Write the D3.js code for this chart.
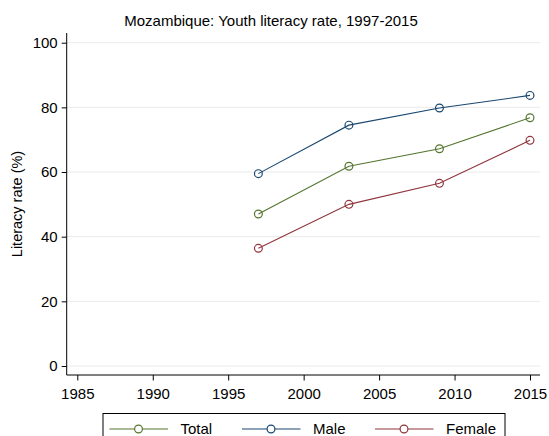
<!DOCTYPE html>
<html>
<head>
<meta charset="utf-8">
<script src="https://cdn.jsdelivr.net/npm/d3@7"></script>
<style>
  html, body { margin: 0; padding: 0; background: #fff; }
  svg { display: block; font-family: "Liberation Sans", Arial, sans-serif; }
</style>
</head>
<body>
<svg id="chart" width="549" height="436"></svg>
<script>
// Youth literacy rate (%) in Mozambique, by sex
const years = [1997, 2003, 2009, 2015];
const totalRate = [47.0, 61.8, 67.2, 76.8];
const maleRate = [59.5, 74.5, 79.8, 83.7];
const femaleRate = [36.4, 50.0, 56.5, 69.8];
const seriesNames = ["Total", "Male", "Female"];
const seriesColors = ["#55752f", "#1a476f", "#90353b"];
const xTicks = [1985, 1990, 1995, 2000, 2005, 2010, 2015];
const yTicks = [0, 20, 40, 60, 80, 100];

const svg = d3.select("#chart");
const FONT = "Liberation Sans, Arial, sans-serif";

// plot frame
const plotLeft = 66.7, plotRight = 540, plotTop = 33, plotBottom = 375;

const x = d3.scaleLinear().domain([1985, 2015]).range([77.3, 530]);
const y = d3.scaleLinear().domain([0, 100]).range([366, 42.7]);

// title
svg.append("text")
  .attr("x", 271).attr("y", 26)
  .attr("text-anchor", "middle")
  .attr("font-size", 15)
  .attr("fill", "#000")
  .text("Mozambique: Youth literacy rate, 1997-2015");

// horizontal grid lines
svg.append("g").selectAll("line").data(yTicks).join("line")
  .attr("x1", plotLeft).attr("x2", plotRight)
  .attr("y1", d => y(d)).attr("y2", d => y(d))
  .attr("stroke", "#eaeaea").attr("stroke-width", 1);

// y axis
const yAxis = svg.append("g")
  .attr("transform", `translate(${plotLeft},0)`)
  .call(d3.axisLeft(y).tickValues(yTicks).tickSize(5).tickPadding(4).tickSizeOuter(0));
yAxis.select(".domain").remove();
yAxis.append("line")
  .attr("x1", 0).attr("x2", 0).attr("y1", plotTop).attr("y2", plotBottom)
  .attr("stroke", "#000");
yAxis.selectAll("text").attr("font-size", 15).attr("fill", "#000").attr("font-family", FONT);
yAxis.selectAll(".tick line").attr("stroke", "#000");

// x axis
const xAxis = svg.append("g")
  .attr("transform", `translate(0,${plotBottom})`)
  .call(d3.axisBottom(x).tickValues(xTicks).tickFormat(d3.format("d")).tickSize(5.5).tickPadding(7.5).tickSizeOuter(0));
xAxis.select(".domain").remove();
xAxis.append("line")
  .attr("x1", plotLeft).attr("x2", plotRight).attr("y1", 0).attr("y2", 0)
  .attr("stroke", "#000");
xAxis.selectAll("text").attr("font-size", 15).attr("fill", "#000").attr("font-family", FONT);
xAxis.selectAll(".tick line").attr("stroke", "#000");

// y axis title
svg.append("text")
  .attr("transform", `translate(22,${(plotTop + plotBottom) / 2}) rotate(-90)`)
  .attr("text-anchor", "middle")
  .attr("font-size", 14.5)
  .attr("fill", "#000")
  .text("Literacy rate (%)");

// series
const series = [totalRate, maleRate, femaleRate].map((vals, i) => ({
  name: seriesNames[i],
  color: seriesColors[i],
  points: years.map((yr, j) => ({ year: yr, value: vals[j] }))
}));

const line = d3.line().x(d => x(d.year)).y(d => y(d.value));

const g = svg.append("g");
series.forEach(s => {
  g.append("path")
    .attr("d", line(s.points))
    .attr("fill", "none")
    .attr("stroke", s.color)
    .attr("stroke-width", 1.1);
  g.selectAll(null).data(s.points).join("circle")
    .attr("cx", d => x(d.year)).attr("cy", d => y(d.value))
    .attr("r", 3.9)
    .attr("fill", "none")
    .attr("stroke", s.color)
    .attr("stroke-width", 1.2);
});

// legend
const legend = svg.append("g");
legend.append("rect")
  .attr("x", 103).attr("y", 413.5)
  .attr("width", 402).attr("height", 30)
  .attr("fill", "#fff").attr("stroke", "#000").attr("stroke-width", 1);
const legendX = [109.5, 242, 375];
const legendY = 429;
series.forEach((s, i) => {
  const lx = legendX[i];
  legend.append("line")
    .attr("x1", lx).attr("x2", lx + 58.5).attr("y1", legendY).attr("y2", legendY)
    .attr("stroke", s.color).attr("stroke-width", 1.1);
  legend.append("circle")
    .attr("cx", lx + 29).attr("cy", legendY).attr("r", 3.9)
    .attr("fill", "#fff").attr("stroke", s.color).attr("stroke-width", 1.2);
  legend.append("text")
    .attr("x", lx + 71).attr("y", legendY + 5.3)
    .attr("font-size", 15).attr("fill", "#000").attr("font-family", FONT)
    .text(s.name);
});
</script>
</body>
</html>
